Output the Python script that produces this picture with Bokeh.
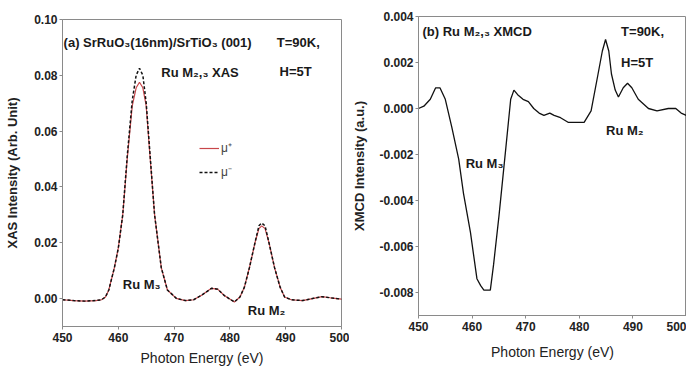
from bokeh.plotting import figure
from bokeh.layouts import row, column
from bokeh.models import Label, Legend, LegendItem, NumeralTickFormatter, FixedTicker
from bokeh.embed import file_html
from bokeh.resources import INLINE

# ---- data: panel (a) XAS ----
xas_energy = [450, 452, 454, 456, 457, 457.7, 458.3, 459.3, 460, 460.8, 461.6, 462.5, 463.2, 463.8,
              464.4, 465, 465.6, 466.5, 467.7, 468.8, 470.4, 472, 473.5, 475, 476.7, 477.8, 479,
              480.8, 481.8, 482.6, 483.5, 484.5, 485.2, 485.7, 486.3, 487, 488, 489, 489.8, 491,
              493, 495, 496.5, 498, 500]
mu_plus = [-0.0005, -0.0008, -0.0010, -0.0008, -0.0005, 0.0005, 0.003, 0.011, 0.018, 0.030, 0.050,
           0.069, 0.0755, 0.0775, 0.0755, 0.069, 0.053, 0.030, 0.011, 0.003, 0.000, -0.0008, -0.0005,
           0.0012, 0.0036, 0.0033, 0.001, -0.0013, 0.0005, 0.004, 0.011, 0.020, 0.025, 0.026, 0.025,
           0.020, 0.011, 0.004, 0.0005, -0.0005, -0.0008, 0.0000, 0.0006, 0.0002, -0.0003]
mu_minus = [-0.0005, -0.0008, -0.0010, -0.0008, -0.0005, 0.0005, 0.003, 0.011, 0.018, 0.030, 0.051,
            0.071, 0.080, 0.0825, 0.080, 0.070, 0.054, 0.030, 0.011, 0.003, 0.000, -0.0008, -0.0005,
            0.0012, 0.0036, 0.0033, 0.001, -0.0013, 0.0005, 0.004, 0.011, 0.020, 0.026, 0.027, 0.026,
            0.020, 0.011, 0.004, 0.0005, -0.0005, -0.0008, 0.0000, 0.0006, 0.0002, -0.0003]

# ---- data: panel (b) XMCD ----
xmcd_energy = [450, 451, 452.2, 453.2, 454, 455, 456.2, 457.5, 458.4, 459.7, 460.9, 461.6, 462.2,
               463.4, 464, 465, 466.3, 467.2, 467.8, 468.5, 469.5, 470.5, 471.5, 472.5, 473.4,
               474.5, 475.3, 476.5, 477.9, 479.5, 480.9, 482.2, 483.5, 484.3, 484.9, 485.5, 486,
               486.7, 487.3, 488.2, 489, 489.8, 491, 492.9, 494.5, 496.6, 498, 499, 500]
xmcd = [0.0000, 0.0001, 0.0004, 0.0009, 0.0009, 0.0004, -0.0008, -0.0022, -0.0037, -0.0054,
        -0.0074, -0.0077, -0.0079, -0.0079, -0.0068, -0.0047, -0.0017, 0.0004, 0.0008, 0.0006,
        0.0004, 0.0003, 0.0000, -0.0002, -0.0003, -0.0002, -0.0003, -0.0004, -0.0006, -0.0006,
        -0.0006, -0.0001, 0.0015, 0.0025, 0.0030, 0.0025, 0.0015, 0.0008, 0.0005, 0.0009, 0.0011,
        0.0009, 0.0004, 0.0000, -0.0001, 0.0000, 0.0000, -0.0002, -0.0003]

x_ticks = [450, 460, 470, 480, 490, 500]
xas_ticks = [0.00, 0.02, 0.04, 0.06, 0.08, 0.10]
xmcd_ticks = [-0.008, -0.006, -0.004, -0.002, 0.000, 0.002, 0.004]

FONT = "'Liberation Sans Narrow', 'Liberation Sans', Arial, sans-serif"


def style(p, yticks, yfmt, ylabel, ystand, xstand):
    p.xgrid.visible = False
    p.ygrid.visible = False
    p.outline_line_color = "#8a8a8a"
    p.outline_line_width = 1
    p.xaxis.ticker = FixedTicker(ticks=x_ticks)
    p.yaxis.ticker = FixedTicker(ticks=yticks)
    p.yaxis.formatter = NumeralTickFormatter(format=yfmt)
    for ax in (p.xaxis[0], p.yaxis[0]):
        ax.axis_line_color = "#8a8a8a"
        ax.major_tick_line_color = "#8a8a8a"
        ax.major_tick_out = 3
        ax.major_tick_in = 0
        ax.minor_tick_line_color = None
        ax.major_label_text_font = FONT
        ax.major_label_text_font_style = "bold"
        ax.major_label_text_font_size = "12px"
        ax.major_label_text_color = "#222222"
        ax.axis_label_text_font = FONT
        ax.axis_label_text_color = "#222222"
    p.xaxis.major_label_standoff = 3
    p.yaxis.major_label_standoff = 2
    p.xaxis.axis_label = "Photon Energy (eV)"
    p.xaxis.axis_label_text_font_style = "normal"
    p.xaxis.axis_label_text_font_size = "14px"
    p.xaxis.axis_label_standoff = xstand
    p.yaxis.axis_label = ylabel
    p.yaxis.axis_label_text_font_style = "bold"
    p.yaxis.axis_label_text_font_size = "13px"
    p.yaxis.axis_label_standoff = ystand


def lab(p, x, y, text, size="12px"):
    p.add_layout(Label(x=x, y=y, text=text, text_font=FONT, text_font_style="bold",
                       text_font_size=size, text_color="#1a1a1a",
                       text_align="left", text_baseline="middle"))


# ---- panel (a) ----
p1 = figure(width=349, height=370, x_range=(450, 500), y_range=(-0.0101, 0.10),
            output_backend="svg", toolbar_location=None,
            min_border_left=62, min_border_right=8, min_border_top=19, min_border_bottom=44)
style(p1, xas_ticks, "0.00", "XAS Intensity (Arb. Unit)", 11, 5)
r_plus = p1.line(xas_energy, mu_plus, line_color="#c8464a", line_width=1.2)
r_minus = p1.line(xas_energy, mu_minus, line_color="#111111", line_width=1.5, line_dash="3 2")

legend = Legend(items=[LegendItem(label="\u03bc\u207a", renderers=[r_plus]),
                       LegendItem(label="\u03bc\u207b", renderers=[r_minus])],
                location=(137, 146), background_fill_alpha=0, border_line_color=None,
                label_text_font_size="12px", label_text_font=FONT, glyph_width=20,
                glyph_height=12, padding=0, spacing=7, margin=0, label_standoff=2)
p1.add_layout(legend)

lab(p1, 450.2, 0.0917, "(a) SrRuO\u2083(16nm)/SrTiO\u2083 (001)", "13px")
lab(p1, 488.4, 0.0917, "T=90K,", "13px")
lab(p1, 488.9, 0.0813, "H=5T", "13px")
lab(p1, 467.7, 0.0810, "Ru M\u2082,\u2083 XAS", "13px")
lab(p1, 460.8, 0.0050, "Ru M\u2083", "13px")
lab(p1, 483.2, -0.0043, "Ru M\u2082", "13px")

# ---- panel (b) ----
p2 = figure(width=337, height=370, x_range=(450, 500), y_range=(-0.0090, 0.004),
            output_backend="svg", toolbar_location=None,
            min_border_left=68, min_border_right=0, min_border_top=16, min_border_bottom=55)
style(p2, xmcd_ticks, "0.000", "XMCD Intensity (a.u.)", 9, 10)
p2.line(xmcd_energy, xmcd, line_color="#111111", line_width=1.3)

lab(p2, 450.75, 0.00335, "(b) Ru M\u2082,\u2083 XMCD", "13px")
lab(p2, 487.8, 0.00335, "T=90K,", "13px")
lab(p2, 487.8, 0.00198, "H=5T", "13px")
lab(p2, 458.8, -0.00237, "Ru M\u2083", "13px")
lab(p2, 485.0, -0.00095, "Ru M\u2082", "13px")

layout = row(column(p1), column(p2))
open("out.html", "w").write(file_html(layout, INLINE))
